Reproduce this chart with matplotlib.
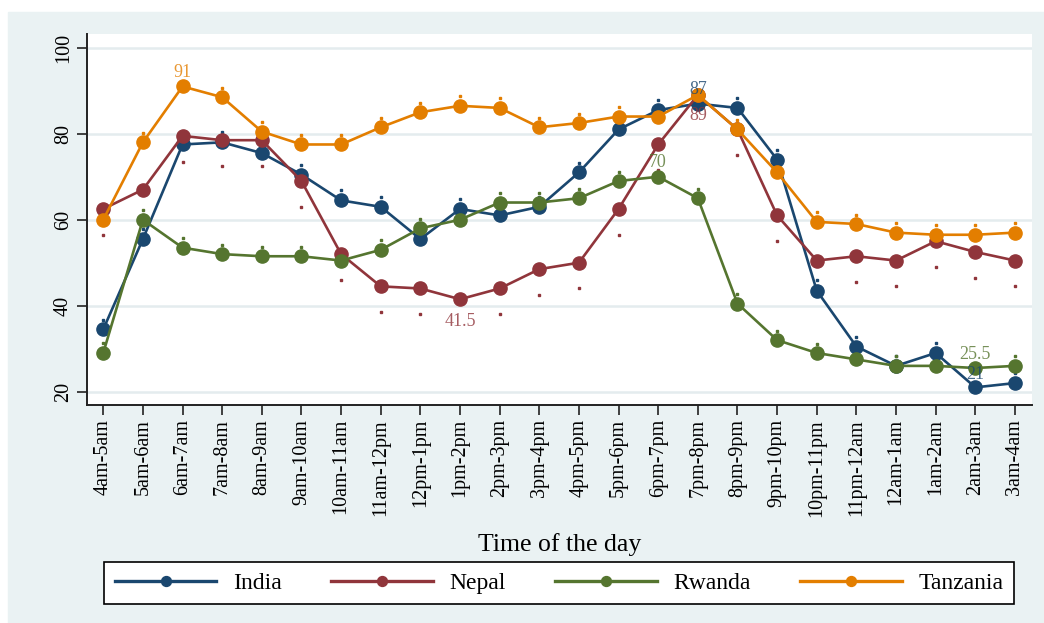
import numpy as np
import matplotlib
matplotlib.use('Agg')
import matplotlib.pyplot as plt
from matplotlib.patches import Rectangle

hours = ['4am-5am', '5am-6am', '6am-7am', '7am-8am', '8am-9am', '9am-10am',
         '10am-11am', '11am-12pm', '12pm-1pm', '1pm-2pm', '2pm-3pm', '3pm-4pm',
         '4pm-5pm', '5pm-6pm', '6pm-7pm', '7pm-8pm', '8pm-9pm', '9pm-10pm',
         '10pm-11pm', '11pm-12am', '12am-1am', '1am-2am', '2am-3am', '3am-4am']

india = [34.5, 55.5, 77.5, 78, 75.5, 70.5, 64.5, 63, 55.5, 62.5, 61, 63,
         71, 81, 85.5, 87, 86, 74, 43.5, 30.5, 26, 29, 21, 22]
nepal = [62.5, 67, 79.5, 78.5, 78.5, 69, 52, 44.5, 44, 41.5, 44, 48.5,
         50, 62.5, 77.5, 89, 81, 61, 50.5, 51.5, 50.5, 55, 52.5, 50.5]
rwanda = [29, 60, 53.5, 52, 51.5, 51.5, 50.5, 53, 58, 60, 64, 64,
          65, 69, 70, 65, 40.5, 32, 29, 27.5, 26, 26, 25.5, 26]
tanzania = [60, 78, 91, 88.5, 80.5, 77.5, 77.5, 81.5, 85, 86.5, 86, 81.5,
            82.5, 84, 84, 89, 81, 71, 59.5, 59, 57, 56.5, 56.5, 57]

# small bound dots
india_hi = [36.7, 57.8, 79.8, 80.3, 77.8, 72.8, 66.8, 65.3, 57.8, 64.8, 63.3, 65.3,
            73.3, 83.3, 87.8, np.nan, 88.3, 76.3, 46, 32.8, 28.3, 31.3, np.nan, 24.3]
nepal_lo = [56.5, 61, 73.5, 72.5, 72.5, 63, 46, 38.5, 38, np.nan, 38, 42.5,
            44, 56.5, 71.5, np.nan, 75, 55, 44.5, 45.5, 44.5, 49, 46.5, 44.5]
rwanda_hi = [31.3, 62.2, 55.7, 54.2, 53.7, 53.7, 52.7, 55.2, 60.2, 62.2, 66.2, 66.2,
             67.2, 71.2, np.nan, 67.2, 42.7, 34.2, 31.2, 29.7, 28.2, 28.2, np.nan, 28.2]
tanzania_hi = [62.2, 80.2, np.nan, 90.7, 82.7, 79.7, 79.7, 83.7, 87.2, 88.7, 88.2, 83.7,
               84.7, 86.2, 86.2, np.nan, 83.2, 73.2, 61.7, 61.2, 59.2, 58.7, 58.7, 59.2]

countries = ['India', 'Nepal', 'Rwanda', 'Tanzania']
colors = ['#1a476f', '#90353b', '#55752f', '#e37e00']

# (series index, hour index, text, offset in points)
labels = [(3, 2, '91', 10), (0, 15, '87', 10.5), (1, 15, '89', -15),
          (1, 9, '41.5', -16), (2, 14, '70', 10), (2, 22, '25.5', 10),
          (0, 22, '21', 9)]

serif = 'Liberation Serif'
bg = '#eaf2f3'

fig = plt.figure(figsize=(10.44, 6.23), dpi=100)
fig.patches.append(Rectangle((8 / 1044, 0), 1, 611 / 623, transform=fig.transFigure,
                             color=bg, zorder=-1))
ax = fig.add_axes([87 / 1044, 1 - 405 / 623, 945 / 1044, 371 / 623])
ax.set_facecolor('white')

x = np.arange(len(hours))
series = [india, nepal, rwanda, tanzania]
bounds = [india_hi, nepal_lo, rwanda_hi, tanzania_hi]

for vals, b, c in zip(series, bounds, colors):
    ax.plot(x, b, 's', color=c, markersize=2, zorder=2)
for vals, name, c in zip(series, countries, colors):
    ax.plot(x, vals, '-o', color=c, lw=1.9, markersize=9.5, label=name, zorder=3)

for s, i, txt, off in labels:
    ax.annotate(txt, (x[i], series[s][i]), xytext=(0, off), textcoords='offset points',
                ha='center', va='center', color=colors[s], alpha=0.8,
                fontsize=13, family=serif, zorder=4)

ax.set_xlim(-0.41, 23.43)
ax.set_ylim(16.9, 103.2)
ax.set_yticks([20, 40, 60, 80, 100])
ax.set_xticks(x)
ax.set_xticklabels(hours, rotation=90, fontsize=14.5, family=serif)
for t in ax.get_yticklabels():
    t.set_rotation(90)
    t.set_va('center')
    t.set_fontsize(14.5)
    t.set_family(serif)
ax.grid(axis='y', color='#e4ecee', lw=1.8)
ax.set_axisbelow(True)
for side in ['top', 'right']:
    ax.spines[side].set_visible(False)
for side in ['left', 'bottom']:
    ax.spines[side].set_color('#222222')
    ax.spines[side].set_linewidth(1.4)
ax.tick_params(direction='out', length=7, width=1.2, color='#222222', pad=3)

fig.text(560 / 1044, 1 - 545 / 623, 'Time of the day', ha='center', va='center',
         fontsize=18.5, family=serif)

leg = ax.legend(loc='center', bbox_to_anchor=(559 / 1044, 1 - 583 / 623),
                bbox_transform=fig.transFigure, ncol=4, fancybox=False,
                edgecolor='black', framealpha=1, handlelength=4.3,
                columnspacing=2.1, handletextpad=0.7, borderpad=0.45,
                prop={'family': serif, 'size': 17}, markerscale=0.75)
leg.get_frame().set_linewidth(1.2)
for line in leg.get_lines():
    line.set_linewidth(2.4)

fig.savefig('out.png', dpi=100)
